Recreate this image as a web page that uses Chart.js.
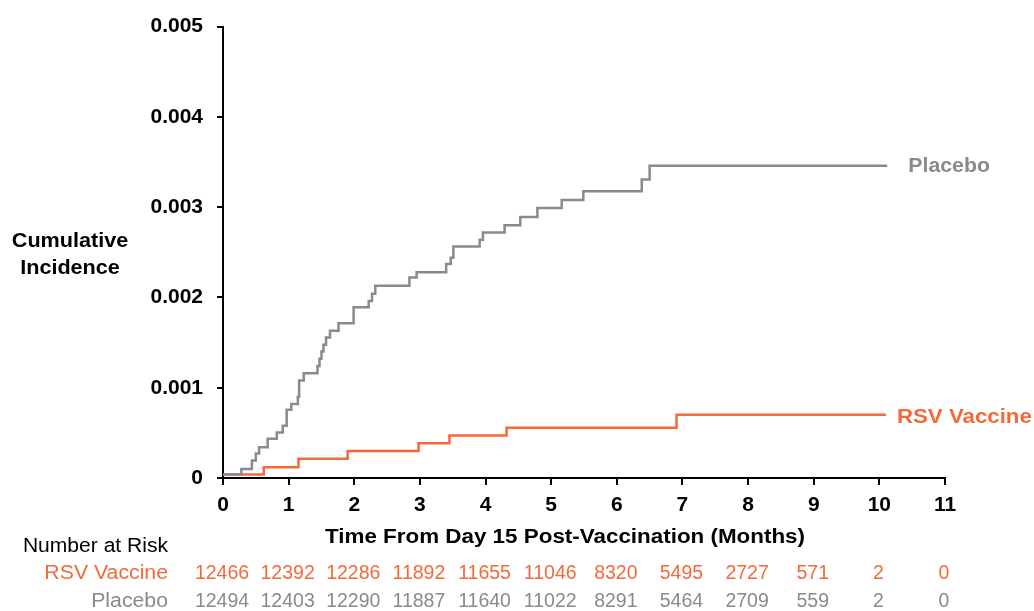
<!DOCTYPE html>
<html>
<head>
<meta charset="utf-8">
<script src="https://cdn.jsdelivr.net/npm/chart.js@4"></script>
<style>
    body { margin: 0; background: #fff; }
    #wrap { width: 1034px; height: 611px; }
</style>
</head>
<body>
<div id="wrap"><canvas id="km" width="1034" height="611"></canvas></div>
<script>
const months = [0, 1, 2, 3, 4, 5, 6, 7, 8, 9, 10, 11];

const placeboTime = [0, 0.28, 0.44, 0.50, 0.55, 0.68, 0.82, 0.91, 0.97, 1.04,
    1.14, 1.16, 1.23, 1.44, 1.47, 1.50, 1.53, 1.57, 1.63, 1.76,
    1.99, 2.22, 2.27, 2.32, 2.84, 2.95, 3.40, 3.47, 3.51, 3.91,
    3.96, 4.29, 4.53, 4.79, 5.16, 5.49, 6.38, 6.50, 10.12];
const placeboInc = [0.00004, 0.0001, 0.000195, 0.00027, 0.00034, 0.000435, 0.000505, 0.00058, 0.000755, 0.00082,
    0.0009, 0.00108, 0.00116, 0.00124, 0.00132, 0.0014, 0.001475, 0.001555, 0.00163, 0.001715,
    0.00189, 0.00196, 0.00204, 0.00213, 0.00222, 0.00228, 0.00237, 0.00244, 0.002565, 0.00264,
    0.00272, 0.0028, 0.00289, 0.00299, 0.00308, 0.003175, 0.003305, 0.00346, 0.00346];

const rsvTime = [0, 0.62, 1.15, 1.90, 2.98, 3.45, 4.32, 6.91, 10.10];
const rsvInc = [0.00004, 0.000118, 0.000214, 0.0003, 0.000386, 0.00047, 0.000556, 0.0007, 0.0007];

const riskRsv = [12466, 12392, 12286, 11892, 11655, 11046, 8320, 5495, 2727, 571, 2, 0];
const riskPlacebo = [12494, 12403, 12290, 11887, 11640, 11022, 8291, 5464, 2709, 559, 2, 0];

const ORANGE = '#f26a3a';
const GRAY = '#8a8a8a';
const FONT = 'Arial, "Liberation Sans", sans-serif';

function pts(xs, ys) {
    return xs.map((x, i) => ({ x: x, y: ys[i] }));
}

// text a little wider than the font gives, like the original
function wideText(ctx, txt, x, y, align, sx) {
    ctx.save();
    ctx.translate(x, y);
    ctx.scale(sx, 1);
    ctx.textAlign = align;
    ctx.fillText(txt, 0, 0);
    ctx.restore();
}

// titles, curve labels and the number-at-risk table
const extras = {
    id: 'extras',
    afterDraw(chart) {
        const ctx = chart.ctx;
        const xs = chart.scales.x;
        const ys = chart.scales.y;
        ctx.save();
        ctx.textBaseline = 'middle';

        ctx.fillStyle = '#000';
        ctx.font = 'bold 20px ' + FONT;
        wideText(ctx, 'Cumulative', 70, 241, 'center', 1.08);
        wideText(ctx, 'Incidence', 70, 268, 'center', 1.08);
        wideText(ctx, 'Time From Day 15 Post-Vaccination (Months)', 565, 537, 'center', 1.12);

        // end-of-curve labels
        ctx.font = 'bold 21px ' + FONT;
        ctx.fillStyle = GRAY;
        const pl = placeboTime.length - 1;
        wideText(ctx, 'Placebo', xs.getPixelForValue(placeboTime[pl]) + 21, ys.getPixelForValue(placeboInc[pl]) + 1, 'left', 1.015);
        ctx.fillStyle = ORANGE;
        const rl = rsvTime.length - 1;
        wideText(ctx, 'RSV Vaccine', xs.getPixelForValue(rsvTime[rl]) + 11, ys.getPixelForValue(rsvInc[rl]) + 2, 'left', 1.06);

        // number at risk
        ctx.font = '19.5px ' + FONT;
        ctx.fillStyle = '#000';
        wideText(ctx, 'Number at Risk', 168, 547, 'right', 1.08);
        ctx.fillStyle = ORANGE;
        wideText(ctx, 'RSV Vaccine', 168, 574, 'right', 1.09);
        ctx.fillStyle = GRAY;
        wideText(ctx, 'Placebo', 168, 602, 'right', 1.09);

        ctx.textAlign = 'center';
        months.forEach((m, i) => {
            const px = xs.getPixelForValue(m) - 1;
            ctx.fillStyle = ORANGE;
            ctx.fillText(String(riskRsv[i]), px, 574);
            ctx.fillStyle = GRAY;
            ctx.fillText(String(riskPlacebo[i]), px, 602);
        });
        ctx.restore();
    }
};

const ctxKm = document.getElementById('km');

new Chart(ctxKm, {
    type: 'line',
    data: {
        datasets: [
            {
                label: 'Placebo',
                data: pts(placeboTime, placeboInc),
                borderColor: GRAY,
                borderWidth: 2.5,
                stepped: 'before',
                pointRadius: 0,
                fill: false
            },
            {
                label: 'RSV Vaccine',
                data: pts(rsvTime, rsvInc),
                borderColor: ORANGE,
                borderWidth: 2.5,
                stepped: 'before',
                pointRadius: 0,
                fill: false
            }
        ]
    },
    options: {
        responsive: false,
        animation: false,
        layout: {
            padding: { left: 0, right: 89, top: 25, bottom: 0 }
        },
        plugins: {
            legend: { display: false },
            tooltip: { enabled: false }
        },
        scales: {
            x: {
                type: 'linear',
                min: 0,
                max: 11,
                afterFit(scale) { scale.height = 133; },
                afterBuildTicks(scale) { scale.ticks = months.map(v => ({ value: v })); },
                border: { color: '#000', width: 2 },
                grid: { drawOnChartArea: false, drawTicks: true, tickLength: 7, color: '#000', lineWidth: 2 },
                ticks: {
                    color: '#000',
                    font: { family: FONT, size: 21, weight: 'bold' },
                    padding: 8,
                    maxRotation: 0
                }
            },
            y: {
                min: 0,
                max: 0.005,
                afterFit(scale) { scale.width = 223; },
                border: { color: '#000', width: 2 },
                grid: { drawOnChartArea: false, drawTicks: true, tickLength: 6, color: '#000', lineWidth: 2 },
                ticks: {
                    stepSize: 0.001,
                    color: '#000',
                    font: { family: FONT, size: 21, weight: 'bold' },
                    padding: 14,
                    callback: v => v === 0 ? '0' : v.toFixed(3)
                }
            }
        }
    },
    plugins: [extras]
});
</script>
</body>
</html>
